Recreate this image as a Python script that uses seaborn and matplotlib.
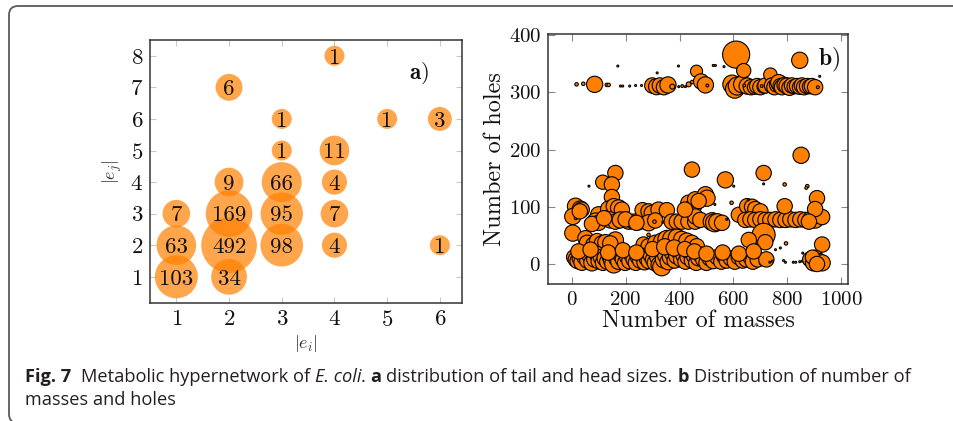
import numpy as np
import pandas as pd
import matplotlib
matplotlib.use("Agg")
import matplotlib.pyplot as plt
import seaborn as sns
from matplotlib.patches import FancyBboxPatch
from matplotlib.transforms import IdentityTransform
from matplotlib import font_manager as fm

# ---------------- Panel a data: tail size |e_i|, head size |e_j|, count ----------------
tail_size = [1, 1, 1, 2, 2, 2, 2, 2, 3, 3, 3, 3, 3, 4, 4, 4, 4, 4, 5, 6, 6]
head_size = [1, 2, 3, 1, 2, 3, 4, 7, 2, 3, 4, 5, 6, 2, 3, 4, 5, 8, 6, 2, 6]
edge_count = [103, 63, 7, 34, 492, 169, 9, 6, 98, 95, 66, 1, 1, 4, 7, 4, 11, 1, 1, 1, 3]

# ---------------- Panel b data: masses, holes, weight ----------------
top_masses = [18, 43, 85, 130, 137, 171, 181, 189, 215, 237, 259, 317, 396,
              299, 315, 327, 342, 357, 373, 397, 410, 422, 434, 447,
              463, 480, 496, 503, 525, 533,
              610, 595, 605, 614, 632, 638, 651, 665, 678, 688, 700, 712, 719, 737, 743,
              752, 760, 768, 775, 780, 790, 799, 808, 817, 825, 836, 845, 854, 862, 873,
              882, 891, 903, 913, 846, 920, 640, 705, 565]
top_holes = [314, 315, 314, 313, 313, 346, 311, 311, 311, 312, 312, 334, 346,
             312, 310, 312, 309, 313, 310, 310, 311, 310, 314, 318,
             337, 319, 313, 312, 347, 347,
             366, 314, 306, 311, 314, 338, 311, 309, 309, 311, 309, 310, 312, 331, 312,
             309, 313, 317, 311, 309, 313, 311, 308, 312, 310, 311, 309, 312, 309, 311,
             310, 311, 309, 309, 356, 328, 312, 311, 345]
top_weight = [3, 3, 65, 3, 3, 1, 1, 1, 1, 1, 1, 1, 1,
              58, 65, 58, 58, 65, 6, 1, 2, 1, 6, 3,
              36, 58, 65, 2, 1, 1,
              180, 85, 85, 80, 72, 50, 65, 58, 50, 58, 58, 44, 58, 44, 58,
              58, 50, 65, 58, 58, 58, 65, 58, 58, 50, 58, 50, 58, 58, 58,
              50, 58, 58, 2, 65, 1, 2, 2, 1]

mid_masses = [162, 115, 149, 149, 64, 14, 32, 37, 4, 100, 57, 15, 88, 100, 137, 156, 174, 186,
              143, 162, 180, 211, 230, 248, 267, 263, 285, 297, 322, 353, 285, 310, 307, 338,
              371, 390, 408, 433, 458, 433, 452, 458, 446, 285, 204,
              570, 712, 601, 712, 790, 874, 496, 502, 471, 459, 477, 521, 530, 540, 558, 531,
              593, 620, 651, 669, 681, 700, 644, 663, 681, 700, 719, 737, 756, 774, 793, 811,
              830, 848, 867, 885, 904, 929, 790, 910, 903, 851, 575, 655, 870, 880,
              30, 75, 120, 200, 240, 420]
mid_holes = [159, 143, 139, 117, 136, 101, 96, 95, 83, 86, 73, 80, 75, 72, 96, 101, 98, 95,
             77, 74, 77, 74, 74, 73, 77, 94, 92, 89, 95, 94, 72, 76, 74, 73,
             74, 74, 74, 74, 74, 107, 101, 113, 165, 51, 32,
             147, 159, 136, 140, 139, 136, 121, 115, 110, 83, 77, 74, 72, 73, 72, 104,
             107, 86, 101, 100, 96, 92, 77, 78, 77, 78, 77, 77, 78, 77, 77, 78,
             77, 78, 77, 78, 76, 82, 101, 115, 96, 190, 78, 112, 133, 74,
             92, 70, 80, 78, 72, 95]
mid_weight = [58, 50, 58, 58, 1, 65, 65, 58, 65, 65, 6, 2, 65, 58, 65, 58, 65, 58,
              65, 58, 65, 58, 58, 58, 58, 58, 58, 58, 58, 58, 65, 58, 3, 1,
              58, 58, 58, 58, 58, 58, 65, 58, 58, 3, 1,
              65, 58, 1, 1, 3, 3, 65, 65, 58, 58, 58, 80, 80, 72, 58, 1,
              3, 58, 58, 58, 58, 58, 58, 58, 58, 58, 58, 58, 58, 58, 58, 58,
              58, 58, 58, 58, 58, 58, 58, 58, 58, 65, 1, 1, 2, 58,
              58, 58, 58, 58, 58, 58]

low_masses = [4, 162, 51, 57, 81, 94, 112, 125, 143, 267, 285, 310, 334, 353, 371, 390, 408,
              427, 446, 464, 712, 718, 657, 929,
              7, 15, 22, 30, 38, 48, 58, 66, 75, 84, 92, 100, 108, 116, 124, 132, 140, 148,
              156, 165, 173, 182, 190, 198, 206, 214, 222, 230, 238, 246, 254, 262, 270, 278,
              286, 294, 302, 310, 318, 326, 334, 342, 350, 358, 366, 374, 382, 390, 398, 406,
              414, 422, 430, 438, 446, 454, 462, 470,
              478, 488, 500, 512, 525, 540, 555, 565, 575, 590, 605, 620, 635, 648, 660, 672,
              690, 705, 722,
              756, 774, 795, 786, 793, 822, 831, 857, 846, 855, 864, 745, 735, 680, 20, 60,
              885, 897, 904, 916, 929, 893, 910,
              25, 70, 135, 190, 240, 300, 345, 380, 420, 455, 500, 560, 620, 675]
low_holes = [54, 42, 45, 37, 34, 40, 36, 38, 36, 34, 31, 37, 40, 43, 44, 46, 43,
             40, 37, 31, 51, 38, 42, 34,
             12, 8, 5, 10, 3, 12, 6, 15, 2, 8, 18, 5, 12, 2, 10, 4, 14, 6,
             0, 10, 4, 15, 8, 2, 12, 5, 16, 8, 2, 12, 6, 14, 3, 10,
             5, 15, 8, 2, 12, -2, -5, 8, 16, 4, 12, 20, 6, 14, 22, 8,
             16, 4, 12, 20, 6, 14, 2, 10,
             16, 8, 2, 10, 5, 12, 4, 14, 6, 10, 4, 12, 6, 8, 14, 4,
             8, 2, 8,
             25, 28, 36, 6, 3, 3, 3, 19, 4, 5, 4, 5, 3, 15, 20, 33,
             8, 2, 10, 5, 2, 12, 0,
             22, 25, 20, 24, 20, 26, 30, 28, 26, 22, 18, 20, 18, 22]
low_weight = [65, 65, 58, 58, 58, 58, 58, 58, 58, 58, 58, 58, 65, 80, 80, 72, 65,
              65, 58, 58, 130, 58, 58, 58,
              50, 58, 58, 58, 65, 58, 58, 58, 65, 58, 58, 58, 58, 58, 65, 58, 58, 65,
              80, 58, 58, 58, 58, 58, 58, 58, 58, 58, 58, 58, 58, 58, 58, 58,
              58, 58, 58, 65, 58, 72, 80, 72, 72, 65, 65, 65, 58, 65, 65, 58,
              58, 58, 58, 58, 58, 58, 58, 58,
              58, 58, 58, 58, 58, 58, 58, 58, 58, 58, 58, 58, 58, 58, 58, 58,
              58, 6, 58,
              1, 1, 3, 1, 1, 1, 1, 1, 1, 1, 1, 1, 1, 1, 2, 1,
              58, 65, 65, 58, 65, 50, 58,
              58, 58, 58, 58, 58, 58, 65, 65, 58, 58, 58, 58, 58, 58]

# ---------------- styling ----------------
sns.set_theme(style="ticks")
plt.rcParams['font.family'] = ['cmr10', 'DejaVu Sans']
plt.rcParams['mathtext.fontset'] = 'cm'
plt.rcParams['axes.unicode_minus'] = False
plt.rcParams['axes.formatter.use_mathtext'] = True

ORANGE = "#ff8000"
W, H = 954, 421
fig = plt.figure(figsize=(W / 100, H / 100), dpi=100)
fig.patch.set_facecolor("white")


def px_axes(l, t, r, b):
    return [l / W, 1 - b / H, (r - l) / W, (b - t) / H]


axA = fig.add_axes(px_axes(150, 40, 462, 303))
axB = fig.add_axes(px_axes(548, 34, 848, 284))

# ---------------- Panel a ----------------
dfA = pd.DataFrame({"tail": tail_size, "head": head_size, "count": edge_count})
dfA["area"] = (14.4 * dfA["count"] ** 0.165) ** 2
amin, amax = dfA["area"].min(), dfA["area"].max()
sns.scatterplot(data=dfA, x="tail", y="head", size="area", sizes=(amin, amax),
                size_norm=(amin, amax), color=ORANGE, alpha=0.7, linewidth=0,
                legend=False, ax=axA, zorder=2)
for _, r in dfA.iterrows():
    axA.text(r["tail"], r["head"], f"{int(r['count'])}", ha="center",
             va="center_baseline", fontsize=16.5, color="#111111", zorder=3)
axA.set_xlim(0.5, 6.42)
axA.set_ylim(0.17, 8.5)
axA.set_xticks(range(1, 7))
axA.set_yticks(range(1, 9))
axA.tick_params(direction="in", length=4, width=0.8, color="#c8c8c8",
                top=True, right=True, labelsize=16.5, pad=5, labelcolor="#111111")
for s in axA.spines.values():
    s.set_linewidth(1.1)
    s.set_color("#333333")
axA.set_xlabel(r"$|e_i|$", fontsize=13, labelpad=2, color="#333333")
axA.set_ylabel(r"$|e_j|$", fontsize=13, labelpad=4, color="#333333")
axA.text(5.6, 7.45, r"$\mathbf{a}$)", fontsize=16.5, ha="center", va="center",
         color="#111111")

# ---------------- Panel b ----------------
dfB = pd.DataFrame({
    "masses": top_masses + mid_masses + low_masses,
    "holes": top_holes + mid_holes + low_holes,
    "weight": top_weight + mid_weight + low_weight,
})
sns.scatterplot(data=dfB, x="masses", y="holes", size="weight", sizes=(2, 380),
                size_norm=(1, 180), color=ORANGE, edgecolor="black", linewidth=0.8,
                legend=False, ax=axB, zorder=2)
axB.set_xlim(-88, 1025)
axB.set_ylim(-35, 402)
axB.set_xticks(range(0, 1001, 200))
axB.set_yticks(range(0, 401, 100))
axB.tick_params(direction="in", length=5, width=0.8, color="#888888",
                top=True, right=True, labelsize=15, pad=5, labelcolor="#111111")
for s in axB.spines.values():
    s.set_linewidth(1.1)
    s.set_color("#333333")
axB.set_xlabel("Number of masses", fontsize=17.5, labelpad=1, color="#111111")
axB.set_ylabel("Number of holes", fontsize=17.5, labelpad=2, color="#111111")
axB.text(955, 357, r"$\mathbf{b}$)", fontsize=17, ha="center", va="center",
         color="#111111")

# ---------------- page frame ----------------
frame = FancyBboxPatch((9, -2), 1100, H - 6 + 2, boxstyle="round,pad=0,rounding_size=9",
                       transform=IdentityTransform(), fill=False,
                       edgecolor="#5a5a5a", linewidth=1.3)
fig.add_artist(frame)

# ---------------- caption ----------------
names = {f.name for f in fm.fontManager.ttflist}
cap_family = next((n for n in ["Liberation Sans Narrow", "Open Sans", "Lato", "DejaVu Sans"]
                   if n in names), "DejaVu Sans")
renderer = fig.canvas.get_renderer()


def width_of(s, weight, style, size):
    t = fig.text(0, 0, s, fontsize=size, family=cap_family, weight=weight, style=style)
    w = t.get_window_extent(renderer).width
    t.remove()
    return w


line1 = [("Fig. 7", "bold", "normal", 0), ("Metabolic hypernetwork of", "normal", "normal", 2),
         ("E. coli", "normal", "italic", 1), (".", "normal", "normal", 0),
         ("a", "bold", "normal", 1), ("distribution of tail and head sizes.", "normal", "normal", 1),
         ("b", "bold", "normal", 1), ("Distribution of number of", "normal", "normal", 1)]
base = 14.0


def line_width(size):
    sp = width_of("a a", "normal", "normal", size) - width_of("aa", "normal", "normal", size)
    tot = 0
    for txt, wgt, sty, g in line1:
        tot += g * sp + width_of(txt, wgt, sty, size)
    return tot, sp


tot, _ = line_width(base)
cap_size = base * 893 / tot
_, sp = line_width(cap_size)
x = 25
for txt, wgt, sty, g in line1:
    x += g * sp
    fig.text(x / W, (H - 382) / H, txt, fontsize=cap_size, family=cap_family,
             weight=wgt, style=sty, va="baseline", ha="left", color="#231f20")
    x += width_of(txt, wgt, sty, cap_size)
fig.text(25 / W, (H - 405) / H, "masses and holes", fontsize=cap_size, family=cap_family,
         va="baseline", ha="left", color="#231f20")

fig.savefig("out.png", dpi=100, facecolor="white")
